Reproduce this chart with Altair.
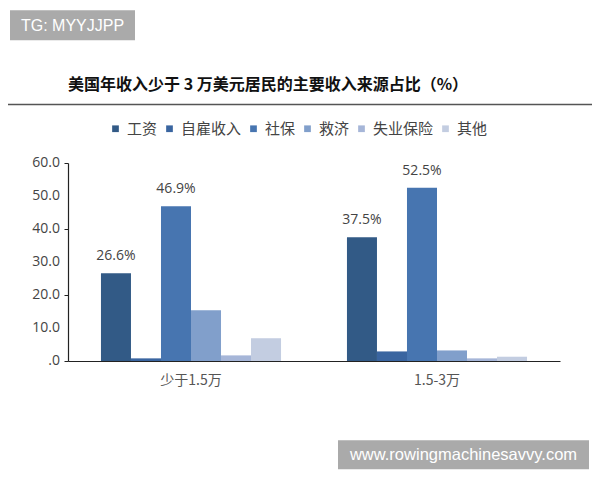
import altair as alt
import pandas as pd

groups = ["少于1.5万", "1.5-3万"]
sources = ["工资", "自雇收入", "社保", "救济", "失业保险", "其他"]
vals_g1 = [26.6, 0.8, 46.9, 15.4, 1.7, 6.9]
vals_g2 = [37.5, 2.9, 52.5, 3.2, 0.8, 1.3]
colors = ["#325a86", "#3a65a0", "#4775b0", "#819fcb", "#a6b6d8", "#c3cde1"]
labeled = ["工资", "社保"]
y_ticks = [0, 10, 20, 30, 40, 50, 60]
y_tick_labels = [".0", "10.0", "20.0", "30.0", "40.0", "50.0", "60.0"]
title_text = "美国年收入少于 3 万美元居民的主要收入来源占比（%）"
wm_top = "TG: MYYJJPP"
wm_bottom = "www.rowingmachinesavvy.com"

rows = []
for g, vals in zip(groups, [vals_g1, vals_g2]):
    for s, v in zip(sources, vals):
        rows.append({"group": g, "source": s, "value": v})
df = pd.DataFrame(rows)
tick_df = pd.DataFrame({"value": y_ticks, "lab": y_tick_labels})

FONT = "Noto Sans CJK SC"

x_enc = alt.X("group:N", sort=groups, title=None,
              scale=alt.Scale(paddingInner=0.268, paddingOuter=0.134),
              axis=alt.Axis(labelAngle=0, ticks=False, domainColor="#222",
                            domainWidth=1.2, labelFontSize=14, labelColor="#555",
                            labelPadding=12, labelFont=FONT))
xo_enc = alt.XOffset("source:N", sort=sources,
                     scale=alt.Scale(paddingInner=0, paddingOuter=0))
y_axis = alt.Axis(values=y_ticks, grid=False, labels=False,
                  tickSize=4, tickColor="#222", domainColor="#222",
                  domainWidth=1.2)
y_enc = alt.Y("value:Q", title=None, scale=alt.Scale(domain=[0, 60], nice=False),
              axis=y_axis)

bars = alt.Chart(df).mark_bar().encode(
    x=x_enc, xOffset=xo_enc, y=y_enc,
    color=alt.Color("source:N", sort=sources,
                    scale=alt.Scale(domain=sources, range=colors),
                    legend=alt.Legend(title=None, orient="none", direction="horizontal",
                                      legendX=40, legendY=-42, symbolType="square",
                                      symbolSize=45, labelFontSize=15, labelColor="#444",
                                      labelFont=FONT, columnPadding=4, symbolOffset=0,
                                      gridAlign="each", labelOffset=4))
)

ylabels = alt.Chart(tick_df).mark_text(align="right", baseline="middle", fontSize=14,
                                       color="#444", font="Open Sans").encode(
    x=alt.value(-8), y=alt.Y("value:Q"), text="lab:N")

labels = alt.Chart(df).transform_filter(
    alt.FieldOneOfPredicate(field="source", oneOf=labeled)
).transform_calculate(
    lab="format(datum.value, '.1f') + '%'"
).mark_text(dy=-17, fontSize=14, color="#444", font="Open Sans").encode(
    x=alt.X("group:N", sort=groups), xOffset=alt.XOffset("source:N", sort=sources),
    y=alt.Y("value:Q"), text="lab:N"
)

one = pd.DataFrame({"a": [0]})

title = alt.Chart(one).mark_text(align="left", baseline="middle", fontSize=16,
                                 fontWeight="bold", font=FONT, color="#111").encode(
    x=alt.value(0), y=alt.value(-78), text=alt.value(title_text))

rule = alt.Chart(one).mark_rule(color="#555", strokeWidth=1.5).encode(
    x=alt.value(-63), x2=alt.value(530), y=alt.value(-58.5))

box1 = alt.Chart(one).mark_rect(color="#aaaaaa").encode(
    x=alt.value(-58), x2=alt.value(67), y=alt.value(-152.7), y2=alt.value(-122.7))
txt1 = alt.Chart(one).mark_text(fontSize=16, color="white", font="Liberation Sans",
                                baseline="middle").encode(
    x=alt.value(4.5), y=alt.value(-137.5), text=alt.value(wm_top))

box2 = alt.Chart(one).mark_rect(color="#aaaaaa").encode(
    x=alt.value(270), x2=alt.value(521), y=alt.value(277.3), y2=alt.value(306.3))
txt2 = alt.Chart(one).mark_text(fontSize=16.5, color="white", font="Liberation Sans",
                                baseline="middle").encode(
    x=alt.value(395.5), y=alt.value(292), text=alt.value(wm_bottom))

chart = alt.layer(bars, ylabels, labels, title, rule, box1, txt1, box2, txt2).properties(
    width=492, height=198,
    autosize=alt.AutoSizeParams(type="none"),
    padding={"left": 60, "top": 155, "right": 32, "bottom": 111},
    background="white",
).configure_view(stroke=None)

chart.save("out.html", embed_options={"renderer": "svg", "actions": False})
